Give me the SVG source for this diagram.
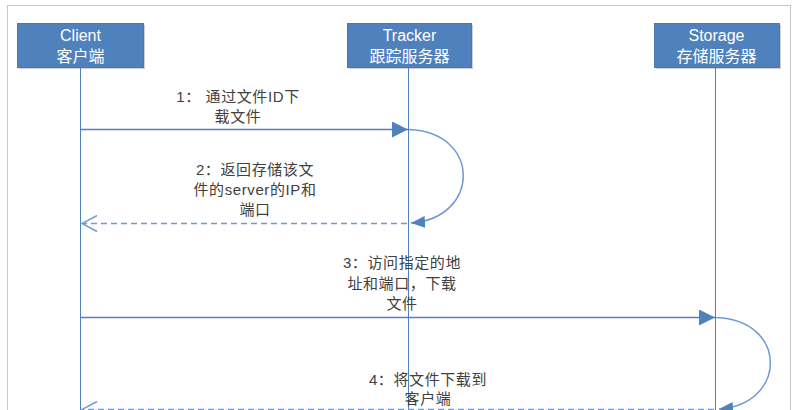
<svg xmlns="http://www.w3.org/2000/svg" width="796" height="410" viewBox="0 0 796 410">
<style>
.box{fill:#4f81bd;stroke:#4a78b0;stroke-width:1}
.shadow{fill:#d0d0d0}
.bt{font-family:"Liberation Sans","Noto Sans CJK SC",sans-serif;font-size:16px;fill:#ffffff;text-anchor:middle}
.lbl{font-family:"Liberation Sans","Noto Sans CJK SC",sans-serif;font-size:15px;fill:#404040;text-anchor:middle;letter-spacing:0.6px}
.life{stroke:#4f81bd;stroke-width:1;fill:none}
.msg{stroke:#4f81bd;stroke-width:1.5;fill:none}
.ret{stroke:#6f9bd4;stroke-width:1.5;fill:none;stroke-dasharray:6,4}
.loop{stroke:#6f9bd4;stroke-width:1.5;fill:none}
</style>
<defs>
<marker id="tri" viewBox="0 0 16 16" refX="16" refY="8" markerWidth="16" markerHeight="16" markerUnits="userSpaceOnUse" orient="auto">
<path d="M0,0 L16,8 L0,16 Z" fill="#4f81bd"/>
</marker>
<marker id="tri2" viewBox="0 0 14 12" refX="14" refY="6" markerWidth="14" markerHeight="12" markerUnits="userSpaceOnUse" orient="auto">
<path d="M0,0 L14,6 L0,12 Z" fill="#4f81bd"/>
</marker>
<marker id="open" viewBox="0 0 17 18" refX="16" refY="9" markerWidth="17" markerHeight="18" markerUnits="userSpaceOnUse" orient="auto">
<path d="M1,1 L16,9 L1,17" fill="none" stroke="#6f9bd4" stroke-width="1.5"/>
</marker>
</defs>
<rect x="7.5" y="5.5" width="783" height="420" fill="#ffffff" stroke="#c8c8c8" stroke-width="1"/>
<g id="client">
<rect class="shadow" x="19" y="25" width="126" height="44"/>
<rect class="box" x="17.5" y="23.5" width="126" height="44"/>
<text class="bt" x="80.5" y="41">Client</text>
<text class="bt" x="80.5" y="62">客户端</text>
<line class="life" x1="80.5" y1="67.5" x2="80.5" y2="410"/>
</g>
<g id="tracker">
<rect class="shadow" x="349" y="25" width="124" height="44"/>
<rect class="box" x="347.5" y="23.5" width="124" height="44"/>
<text class="bt" x="409.5" y="41">Tracker</text>
<text class="bt" x="409.5" y="62">跟踪服务器</text>
<line class="life" x1="408.5" y1="67.5" x2="408.5" y2="410"/>
</g>
<g id="storage">
<rect class="shadow" x="656" y="25" width="125" height="44"/>
<rect class="box" x="654.5" y="23.5" width="125" height="44"/>
<text class="bt" x="716.5" y="41">Storage</text>
<text class="bt" x="716.5" y="62">存储服务器</text>
<line class="life" x1="715.5" y1="67.5" x2="715.5" y2="410"/>
</g>
<g id="connectors">
<line class="msg" x1="81" y1="129.5" x2="408" y2="129.5" marker-end="url(#tri)"/>
<path class="loop" d="M409,129.5 C481,132 481,218 411,223" marker-end="url(#tri2)"/>
<line class="ret" x1="407" y1="223.5" x2="82" y2="223.5" marker-end="url(#open)"/>
<line class="msg" x1="81" y1="317.5" x2="715" y2="317.5" marker-end="url(#tri)"/>
<path class="loop" d="M716,317.5 C788,320 788,404 719,409" marker-end="url(#tri2)"/>
<line class="ret" x1="714" y1="409.5" x2="82" y2="409.5" marker-end="url(#open)"/>
</g>
<g id="labels">
<text class="lbl" x="238" y="102">1：  通过文件ID下</text>
<text class="lbl" x="238" y="122">载文件</text>
<text class="lbl" x="255" y="175">2：返回存储该文</text>
<text class="lbl" x="255" y="195">件的server的IP和</text>
<text class="lbl" x="255" y="215">端口</text>
<text class="lbl" x="402" y="268">3：访问指定的地</text>
<text class="lbl" x="402" y="289">址和端口，下载</text>
<text class="lbl" x="402" y="309">文件</text>
<text class="lbl" x="428" y="385">4：将文件下载到</text>
<text class="lbl" x="428" y="404">客户端</text>
</g>
</svg>
